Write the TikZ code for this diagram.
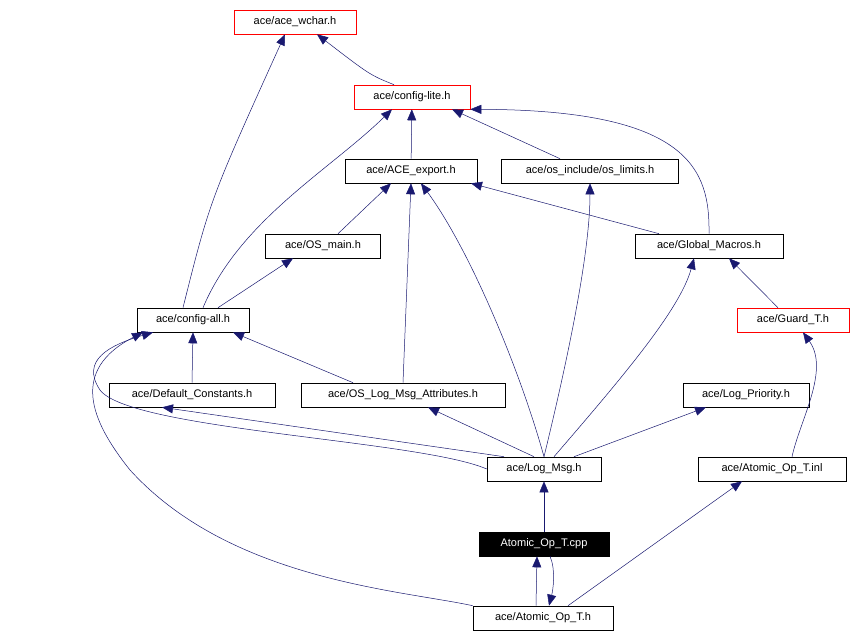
\documentclass[tikz,border=0pt]{standalone}
\usepackage{fontspec}
\setmainfont{Liberation Sans}
\usetikzlibrary{arrows.meta}
\begin{document}
\begin{tikzpicture}[x=1pt,y=-1pt,
 n/.style={draw=black,fill=white,inner sep=0pt,minimum height=24pt,font=\fontsize{11}{13}\selectfont,line width=0.6pt},
 r/.style={n,draw=red},
 e/.style={draw={rgb,255:red,25;green,25;blue,112},line width=0.5pt,-{Triangle[length=11pt,width=9pt]}}]
\useasboundingbox (0,0) rectangle (868,639);
\node[r,minimum width=122pt] (wchar) at (295,22) {ace/ace\_wchar.h};
\node[r,minimum width=116pt] (lite) at (412,97) {ace/config-lite.h};
\node[n,minimum width=132pt] (exp) at (411,171) {ace/ACE\_export.h};
\node[n,minimum width=177pt] (lim) at (590,171) {ace/os\_include/os\_limits.h};
\node[n,minimum width=115pt] (main) at (323,246) {ace/OS\_main.h};
\node[n,minimum width=148pt] (glob) at (709,246) {ace/Global\_Macros.h};
\node[n,minimum width=112pt] (all) at (193,320) {ace/config-all.h};
\node[r,minimum width=112pt] (guard) at (793,320) {ace/Guard\_T.h};
\node[n,minimum width=166pt] (def) at (192,395) {ace/Default\_Constants.h};
\node[n,minimum width=204pt] (attr) at (403,395) {ace/OS\_Log\_Msg\_Attributes.h};
\node[n,minimum width=126pt] (prio) at (746,395) {ace/Log\_Priority.h};
\node[n,minimum width=114pt] (log) at (544,469) {ace/Log\_Msg.h};
\node[n,minimum width=148pt] (inl) at (772,469) {ace/Atomic\_Op\_T.inl};
\node[n,minimum width=130pt,fill=black,text=white] (cpp) at (544,544) {Atomic\_Op\_T.cpp};
\node[n,minimum width=140pt] (h) at (543,618) {ace/Atomic\_Op\_T.h};

\draw[e] ([xshift=-18pt]lite.north) .. controls (370,75) .. ([xshift=22pt]wchar.south);
\draw[e] ([xshift=-10pt]all.north) .. controls (210,200) .. ([xshift=-10pt]wchar.south);
\draw[e] (exp) -- (lite);
\draw[e] ([xshift=-30pt]lim.north) -- ([xshift=40pt]lite.south);
\draw[e] (glob.north) .. controls (710,170) and (690,110) .. (lite.south east);
\draw[e] ([xshift=10pt]all.north) .. controls (240,220) and (330,170) .. ([xshift=-20pt]lite.south);
\draw[e] ([xshift=15pt]main.north) -- ([xshift=-20pt]exp.south);
\draw[e] ([xshift=-50pt]glob.north) -- ([xshift=60pt]exp.south);
\draw[e] (attr.north) -- (exp.south);
\draw[e] (log.north) .. controls (520,370) and (470,250) .. ([xshift=10pt]exp.south);
\draw[e] ([xshift=25pt]all.north) -- ([xshift=-30pt]main.south);
\draw[e] (def.north) -- (all.south);
\draw[e] ([xshift=-50pt]attr.north) -- ([xshift=40pt]all.south);
\draw[e] (log.west) .. controls (420,440) and (130,430) .. (100,390) .. controls (80,360) and (110,345) .. ([xshift=-40pt]all.south);
\draw[e] (h.north west) .. controls (400,590) and (230,580) .. (130,470) .. controls (90,420) and (70,370) .. ([xshift=-50pt]all.south);
\draw[e] ([xshift=-40pt]log.north) -- ([xshift=-30pt]def.south);
\draw[e] ([xshift=-10pt]log.north) -- ([xshift=25pt]attr.south);
\draw[e] (log.north) .. controls (570,350) and (590,250) .. (lim.south);
\draw[e] ([xshift=10pt]log.north) .. controls (620,380) and (680,310) .. ([xshift=-15pt]glob.south);
\draw[e] ([xshift=30pt]log.north) -- ([xshift=-40pt]prio.south);
\draw[e] ([xshift=-15pt]guard.north) -- ([xshift=20pt]glob.south);
\draw[e] ([xshift=20pt]inl.north) .. controls (800,420) and (830,370) .. ([xshift=10pt]guard.south);
\draw[e] (cpp) -- (log);
\draw[e] ([xshift=-7pt]h.north) -- ([xshift=-7pt]cpp.south);
\draw[e] ([xshift=6pt]cpp.south) .. controls (556,570) and (553,590) .. ([xshift=6pt]h.north);
\draw[e] ([xshift=25pt]h.north) -- ([xshift=-30pt]inl.south);
\end{tikzpicture}
\end{document}
